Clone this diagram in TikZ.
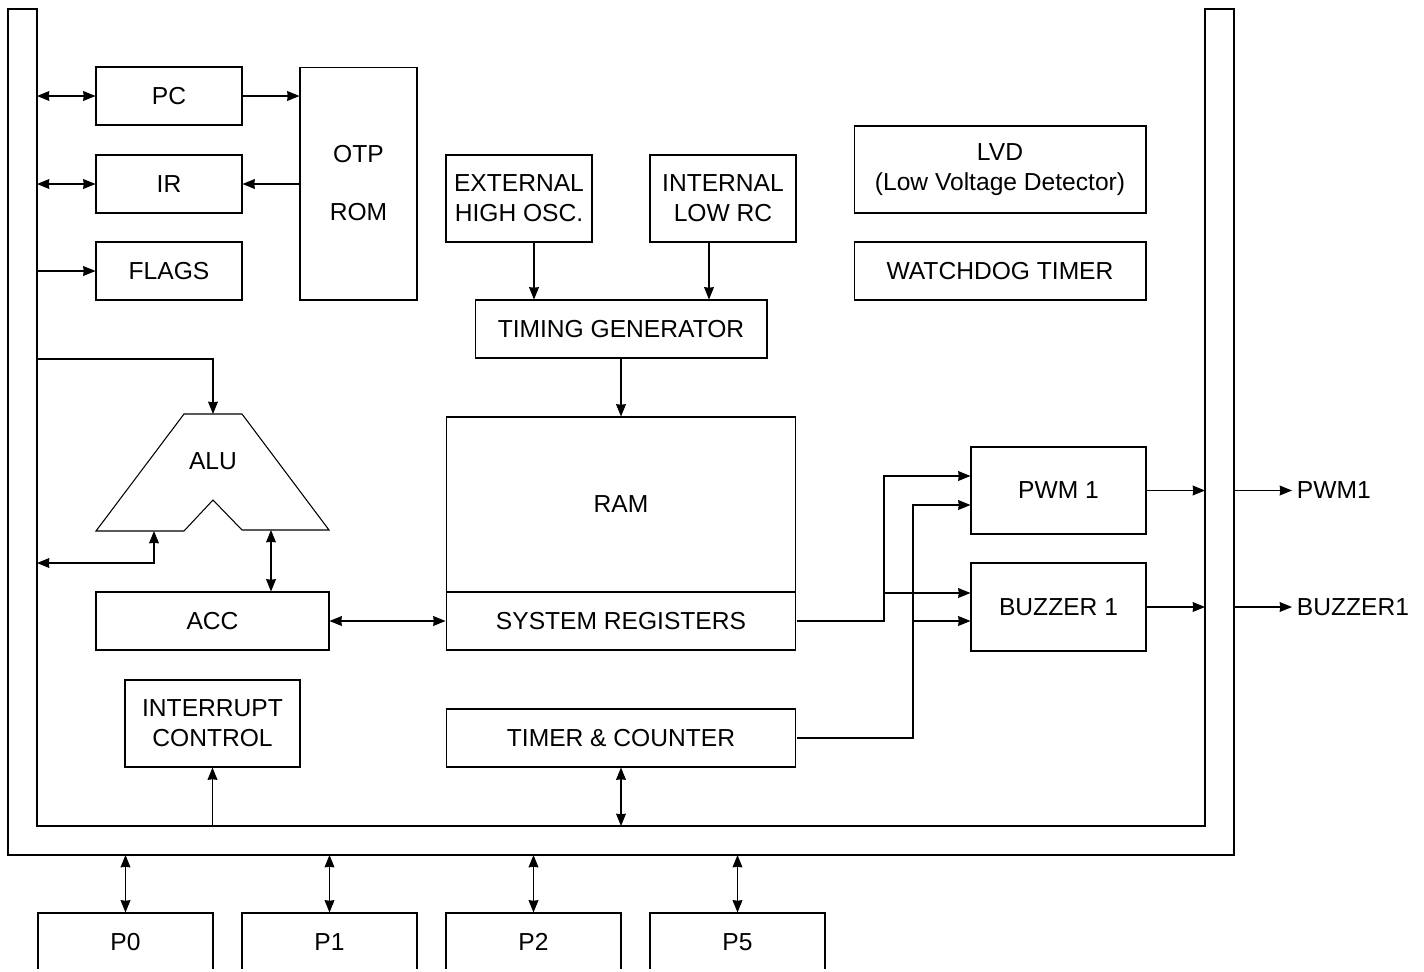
\documentclass[tikz,border=0pt]{standalone}
\usepackage{fontspec}
\setmainfont{Liberation Sans}
\usetikzlibrary{positioning,calc,arrows.meta}

\begin{document}
\begin{tikzpicture}[x=0.02cm, y=-0.02cm, line width=0.6pt,
  >={Stealth[length=7pt,width=5.6pt,inset=0.3pt]},
  blk/.style={draw, inner sep=0pt, align=center, font=\fontsize{14}{17}\selectfont},
  lbl/.style={inner sep=2.5pt, font=\fontsize{14}{17}\selectfont}]
\useasboundingbox (0,0) rectangle (1424,971);
\clip (0,0) rectangle (1424,968);
% bus
\draw (8,9) -- (8,855) -- (1234,855) -- (1234,9) -- (1205,9) -- (1205,826) -- (37,826) -- (37,9) -- cycle;
\coordinate (busL) at (37,0);
\coordinate (busR) at (1205,0);
\coordinate (busX) at (1234,0);
\coordinate (busB) at (0,826);
\coordinate (busO) at (0,855);

% blocks
\node[blk, minimum width=2.92cm, minimum height=1.16cm] (pc) at (169,96) {PC};
\node[blk, minimum width=2.92cm, minimum height=1.16cm] (ir) at (169,184) {IR};
\node[blk, minimum width=2.92cm, minimum height=1.16cm] (flags) at (169,271) {FLAGS};
\node[blk, minimum width=2.34cm, minimum height=4.66cm] (otp) at (358.5,183.5) {OTP\\[16pt]ROM};
\node[blk, minimum width=2.92cm, minimum height=1.74cm] (ext) at (519,198.5) {EXTERNAL\\HIGH OSC.};
\node[blk, minimum width=2.92cm, minimum height=1.74cm] (int) at (723,198.5) {INTERNAL\\LOW RC};
\node[blk, minimum width=5.84cm, minimum height=1.16cm] (tim) at (621,329) {TIMING GENERATOR};
\node[blk, minimum width=5.84cm, minimum height=1.74cm] (lvd) at (1000,169.5) {LVD\\(Low Voltage Detector)};
\node[blk, minimum width=5.84cm, minimum height=1.16cm] (wdt) at (1000,271) {WATCHDOG TIMER};
\node[blk, minimum width=7cm, minimum height=3.5cm] (ram) at (621,504.5) {RAM};
\node[blk, minimum width=7cm, minimum height=1.16cm] (sysreg) at (621,621) {SYSTEM REGISTERS};
\node[blk, minimum width=4.66cm, minimum height=1.16cm] (acc) at (212.5,621) {ACC};
\node[blk, minimum width=3.5cm, minimum height=1.74cm] (intc) at (212.5,723.5) {INTERRUPT\\CONTROL};
\node[blk, minimum width=7cm, minimum height=1.16cm] (tc) at (621,738) {TIMER \& COUNTER};
\node[blk, minimum width=3.5cm, minimum height=1.74cm] (pwm) at (1058.5,490.5) {PWM 1};
\node[blk, minimum width=3.5cm, minimum height=1.76cm] (buz) at (1058.5,607) {BUZZER 1};
\node[blk, minimum width=3.5cm, minimum height=1.16cm] (p0) at (125.5,942) {P0};
\node[blk, minimum width=3.5cm, minimum height=1.16cm] (p1) at (329.5,942) {P1};
\node[blk, minimum width=3.5cm, minimum height=1.16cm] (p2) at (533.5,942) {P2};
\node[blk, minimum width=3.5cm, minimum height=1.16cm] (p5) at (737.5,942) {P5};
\node[lbl, anchor=west] (pwmout) at (1292,490.5) {PWM1};
\node[lbl, anchor=west] (buzout) at (1292,607) {BUZZER1};

% ALU
\draw (184,414) -- (242,414) -- (329,530) -- (242,530) -- (213,500) -- (184,531) -- (96,531) -- cycle;
\node[lbl] (alu) at (213,461) {ALU};
\coordinate (aluT) at (213,414);
\coordinate (aluL) at (154,531);
\coordinate (aluR) at (271,530);

% connectors
\draw[<->] (pc.west -| busL) -- (pc.west);
\draw[->] (pc.east) -- (pc.east -| otp.west);
\draw[<->] (ir.west -| busL) -- (ir.west);
\draw[->] (ir.east -| otp.west) -- (ir.east);
\draw[->] (flags.west -| busL) -- (flags.west);
\draw[->] (busL |- 0,359) -| (aluT);
\draw[<->] (busL |- 0,563) -| (aluL);
\draw[<->] (aluR) -- (aluR |- acc.north);
\draw[<->] (acc.east) -- (sysreg.west);
\draw[->] ([xshift=0.3cm]ext.south) -- ([xshift=0.3cm]ext.south |- tim.north);
\draw[->] ([xshift=-0.28cm]int.south) -- ([xshift=-0.28cm]int.south |- tim.north);
\draw[->] (tim.south) -- (ram.north);

\coordinate (j1) at (884,0);
\coordinate (j2) at (913,0);
\coordinate (pwmA) at ([yshift=0.29cm]pwm.west);
\coordinate (pwmB) at ([yshift=-0.29cm]pwm.west);
\coordinate (buzA) at ([yshift=0.28cm]buz.west);
\coordinate (buzB) at ([yshift=-0.28cm]buz.west);
\draw[->] (sysreg.east) -- (sysreg.east -| j1) |- (pwmA);
\draw[->] (buzA -| j1) -- (buzA);
\draw[->] (tc.east) -- (tc.east -| j2) |- (pwmB);
\draw[->] (buzB -| j2) -- (buzB);
\draw[->] (pwm.east) -- (pwm.east -| busR);
\draw[->] (buz.east) -- (buz.east -| busR);
\draw[->] (pwm.east -| busX) -- (pwmout.west);
\draw[->] (buz.east -| busX) -- (buzout.west);

\draw[->] (intc.south |- busB) -- (intc.south);
\draw[<->] (tc.south) -- (tc.south |- busB);
\draw[<->] (p0.north |- busO) -- (p0.north);
\draw[<->] (p1.north |- busO) -- (p1.north);
\draw[<->] (p2.north |- busO) -- (p2.north);
\draw[<->] (p5.north |- busO) -- (p5.north);
\end{tikzpicture}
\end{document}
